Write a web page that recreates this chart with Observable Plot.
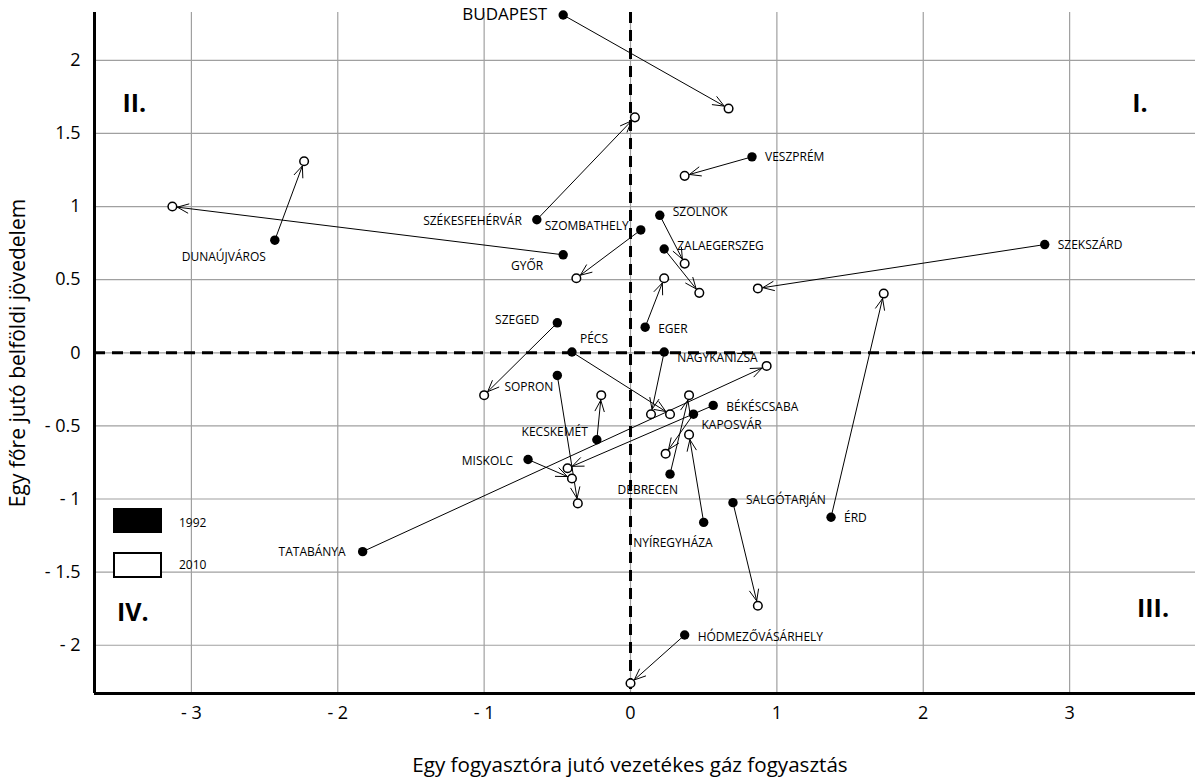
<!DOCTYPE html>
<html><head><meta charset="utf-8">
<script src="https://cdn.jsdelivr.net/npm/d3@7"></script>
<script src="https://cdn.jsdelivr.net/npm/@observablehq/plot@0.6"></script>
<style>
body{margin:0;background:#fff;font-family:"Open Sans",sans-serif;}
#wrap{position:relative;width:1197px;height:782px;}
.lg-box{position:absolute;left:113px;width:49px;box-sizing:border-box;border:2px solid #000;}
.lg-txt{position:absolute;left:179px;font-size:12px;line-height:14px;color:#000;}
</style></head><body><div id="wrap"></div>
<script>
// ---- data ----
const cities = ["BUDAPEST","VESZPRÉM","SZÉKESFEHÉRVÁR","DUNAÚJVÁROS","GYŐR","SZOLNOK","SZOMBATHELY","ZALAEGERSZEG","SZEKSZÁRD","EGER","SZEGED","PÉCS","NAGYKANIZSA","SOPRON","KECSKEMÉT","BÉKÉSCSABA","KAPOSVÁR","MISKOLC","DEBRECEN","NYÍREGYHÁZA","SALGÓTARJÁN","ÉRD","TATABÁNYA","HÓDMEZŐVÁSÁRHELY"];
const gas1992    = [-0.46, 0.83,-0.64,-2.43,-0.46, 0.20, 0.07, 0.23, 2.83, 0.10,-0.50,-0.40, 0.23,-0.50,-0.23, 0.565, 0.43,-0.70, 0.27, 0.50, 0.70, 1.37,-1.83, 0.37];
const income1992 = [ 2.31, 1.34, 0.91, 0.77, 0.67, 0.94, 0.84, 0.71, 0.74, 0.175, 0.205, 0.005, 0.005,-0.155,-0.595,-0.36,-0.42,-0.73,-0.83,-1.16,-1.025,-1.125,-1.36,-1.93];
const gas2010    = [ 0.67, 0.37, 0.03,-2.23,-3.13, 0.37,-0.37, 0.47, 0.87, 0.23,-1.00, 0.27, 0.14,-0.36,-0.20,-0.43, 0.24,-0.40, 0.40, 0.40, 0.87, 1.73, 0.93, 0.00];
const income2010 = [ 1.67, 1.21, 1.61, 1.31, 1.00, 0.61, 0.51, 0.41, 0.44, 0.51,-0.29,-0.42,-0.42,-1.03,-0.29,-0.79,-0.69,-0.86,-0.29,-0.56,-1.73, 0.405,-0.09,-2.26];
const xTicks = [-3,-2,-1,0,1,2,3];
const yTicks = [-2,-1.5,-1,-0.5,0,0.5,1,1.5,2];
const quadrantNames = ["I.","II.","III.","IV."];
const quadrantX = [3.48,-3.39,3.57,-3.40];
const quadrantY = [1.70,1.70,-1.75,-1.78];
const legendYears = ["1992","2010"];
const xTitle = "Egy fogyasztóra jutó vezetékes gáz fogyasztás";
const yTitle = "Egy főre jutó belföldi jövedelem";

// ---- label layout (anchor, dx, dy in px) ----
const labelLayout = {
  "BUDAPEST":["end",-16,0], "VESZPRÉM":["start",13,0], "SZÉKESFEHÉRVÁR":["end",-15,1],
  "DUNAÚJVÁROS":["end",-9,17], "GYŐR":["end",-20,11], "SZOLNOK":["start",13,-3],
  "SZOMBATHELY":["end",-12,-4], "ZALAEGERSZEG":["start",13,-3], "SZEKSZÁRD":["start",13,1],
  "EGER":["start",13,2], "SZEGED":["end",-18,-3], "PÉCS":["start",8,-13],
  "NAGYKANIZSA":["start",13,6], "SOPRON":["end",-4,12], "KECSKEMÉT":["end",-9,-8],
  "BÉKÉSCSABA":["start",13,2], "KAPOSVÁR":["start",8,11], "MISKOLC":["end",-15,2],
  "DEBRECEN":["end",8,16], "NYÍREGYHÁZA":["end",9,21], "SALGÓTARJÁN":["start",13,-3],
  "ÉRD":["start",13,1], "TATABÁNYA":["end",-17,1], "HÓDMEZŐVÁSÁRHELY":["start",13,2]
};

const rows = cities.map((c,i)=>({city:c, x1:gas1992[i], y1:income1992[i], x2:gas2010[i], y2:income2010[i]}));
const quads = quadrantNames.map((q,i)=>({q, x:quadrantX[i], y:quadrantY[i]}));
const fmt = d => d < 0 ? "- " + Math.abs(d) : String(d);
const xDomain = [-3.662, 3.86], yDomain = [-2.33, 2.327];

const labelMarks = rows.map(r => {
  const [a,dx,dy] = labelLayout[r.city];
  return Plot.text([r], {x:"x1", y:"y1", text:"city", textAnchor:a, dx, dy,
    fontSize: r.city === "BUDAPEST" ? 17 : 12, fill:"#000"});
});

const plot = Plot.plot({
  width:1197, height:782,
  marginTop:12, marginBottom:89, marginLeft:94, marginRight:2,
  x:{domain:xDomain}, y:{domain:yDomain},
  style:{fontFamily:"'Open Sans', sans-serif", background:"white", color:"black"},
  marks:[
    Plot.gridX(xTicks,{stroke:"#a0a0a0", strokeOpacity:1, strokeWidth:1.2}),
    Plot.gridY(yTicks,{stroke:"#a0a0a0", strokeOpacity:1, strokeWidth:1.2}),
    Plot.axisX(xTicks,{tickSize:0, tickPadding:13, tickFormat:fmt, fontSize:18, label:null}),
    Plot.axisY(yTicks,{tickSize:0, tickPadding:14, tickFormat:fmt, fontSize:18, label:null}),
    Plot.ruleX([0],{stroke:"black", strokeWidth:3, strokeDasharray:"11,7"}),
    Plot.ruleY([0],{stroke:"black", strokeWidth:3, strokeDasharray:"11,7"}),
    Plot.ruleX([xDomain[0]],{stroke:"black", strokeWidth:3}),
    Plot.ruleY([yDomain[0]],{stroke:"black", strokeWidth:3}),
    Plot.arrow(rows,{x1:"x1", y1:"y1", x2:"x2", y2:"y2", stroke:"black", strokeWidth:1, headLength:18, headAngle:45, insetEnd:5}),
    Plot.dot(rows,{x:"x1", y:"y1", r:4.7, fill:"black", stroke:"none"}),
    Plot.dot(rows,{x:"x2", y:"y2", r:4.3, fill:"white", stroke:"black", strokeWidth:1.5}),
    ...labelMarks,
    Plot.text(quads,{x:"x", y:"y", text:"q", fontWeight:"bold", fontSize:25, fill:"black"}),
    Plot.text([xTitle],{frameAnchor:"bottom", textAnchor:"middle", dx:-15, dy:78, fontSize:20.6, fill:"black"}),
    Plot.text([yTitle],{frameAnchor:"left", textAnchor:"middle", rotate:-90, dx:-76, fontSize:21, fill:"black"})
  ]
});
const wrap = document.getElementById("wrap");
wrap.appendChild(plot);
// legend
const tops = [508, 551.5];
legendYears.forEach((yr,i)=>{
  const b = document.createElement("div");
  b.className = "lg-box";
  b.style.top = tops[i] + "px";
  b.style.height = (i===0 ? 25 : 26) + "px";
  b.style.background = i===0 ? "#000" : "#fff";
  wrap.appendChild(b);
  const t = document.createElement("div");
  t.className = "lg-txt";
  t.textContent = yr;
  t.style.top = (tops[i] + (i===0?8:6)) + "px";
  wrap.appendChild(t);
});
</script></body></html>
